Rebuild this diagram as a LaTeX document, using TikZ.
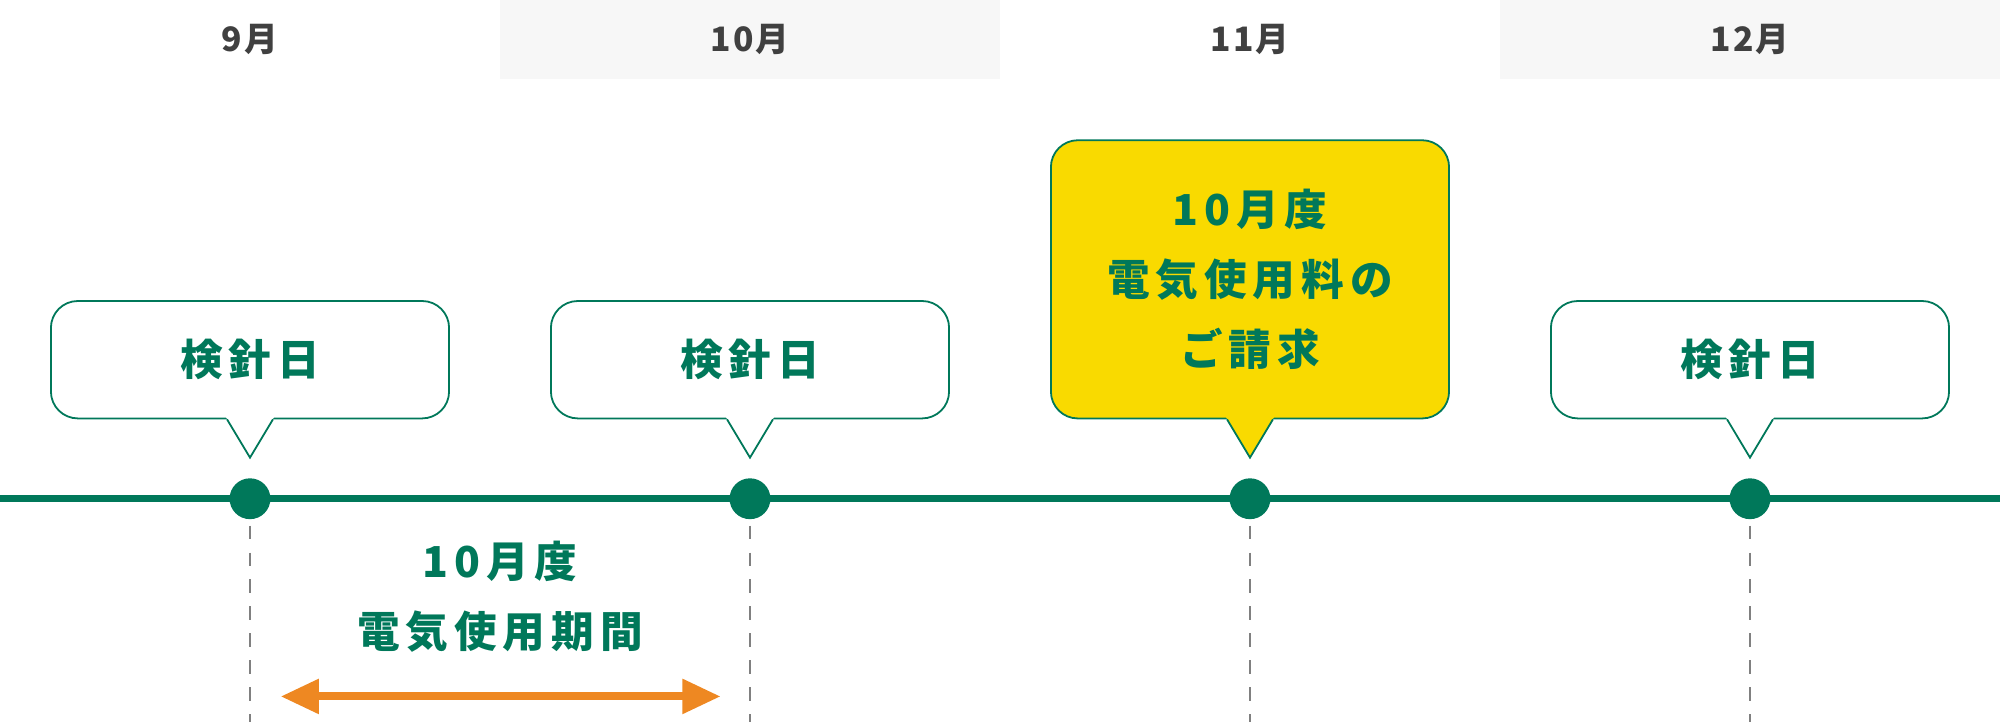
\documentclass[tikz,border=0pt]{standalone}
\usepackage{fontspec}
\setmainfont{Noto Sans CJK JP}
\usetikzlibrary{positioning, arrows.meta}
\definecolor{tlgreen}{HTML}{00785A}
\definecolor{hdgray}{HTML}{F7F7F7}
\definecolor{callyellow}{HTML}{F9DA00}
\definecolor{spanorange}{HTML}{EE8822}

\begin{document}
\begin{tikzpicture}[x=0.01cm, y=-0.01cm,
        month/.style={font=\fontsize{7.5}{8}\selectfont\bfseries\addfontfeatures{LetterSpace=6}, text=black!75},
        callbox/.style={
            rectangle,
            draw=tlgreen,
            fill=white,
            rounded corners=6,
            minimum width=3.12cm,
            minimum height=0.92cm,
            align=center,
            font=\fontsize{9.5}{15.5}\selectfont\bfseries\addfontfeatures{LetterSpace=14},
            text=tlgreen
        },
        dot/.style={circle, fill=tlgreen, inner sep=0pt, minimum size=0.32cm},
        guide/.style={gray, dashed, line width=0.6pt},
        span/.style={{Triangle[length=0.3cm,width=0.26cm]}-{Triangle[length=0.3cm,width=0.26cm]}, spanorange, line width=1.8pt}
    ]
    \useasboundingbox (0,0) rectangle (1568,566);

    % header
    \fill[hdgray] (392,0) rectangle (784,62);
    \fill[hdgray] (1176,0) rectangle (1568,62);
    \node[month] (m9) at (196,31) {9月};
    \node[month] (m10) at (588,31) {10月};
    \node[month] (m11) at (980,31) {11月};
    \node[month] (m12) at (1372,31) {12月};

    % timeline
    \coordinate (lstart) at (0,391);
    \coordinate (lend) at (1568,391);
    \draw[tlgreen, line width=1.6pt] (lstart) -- (lend);

    \foreach \x/\n in {196/a, 588/b, 980/c, 1372/d} {
        \coordinate (g\n) at (\x,566);
        \draw[guide] (\x,391) -- (g\n);
        \node[dot] (p\n) at (\x,391) {};
    }

    % callouts
    \node[callbox] (ca) at (196,282) {検針日};
    \node[callbox] (cb) at (588,282) {検針日};
    \node[callbox, fill=callyellow, minimum height=2.18cm] (cc) at (980,219)
        {10月度\\電気使用料の\\ご請求};
    \node[callbox] (cd) at (1372,282) {検針日};
    \foreach \n/\f in {a/white, b/white, c/callyellow, d/white} {
        \fill[\f] ([xshift=-0.19cm,yshift=0.02cm]c\n.south) -- ([yshift=-0.3cm]c\n.south)
            -- ([xshift=0.19cm,yshift=0.02cm]c\n.south) -- cycle;
        \draw[tlgreen] ([xshift=-0.18cm]c\n.south) -- ([yshift=-0.3cm]c\n.south)
            -- ([xshift=0.18cm]c\n.south);
    }

    % usage period
    \node[callbox, draw=none, fill=none] (period) at (392,468) {10月度\\電気使用期間};
    \coordinate (sl) at (220,546);
    \coordinate (sr) at (565,546);
    \draw[span] (sl) -- (sr);
\end{tikzpicture}
\end{document}
